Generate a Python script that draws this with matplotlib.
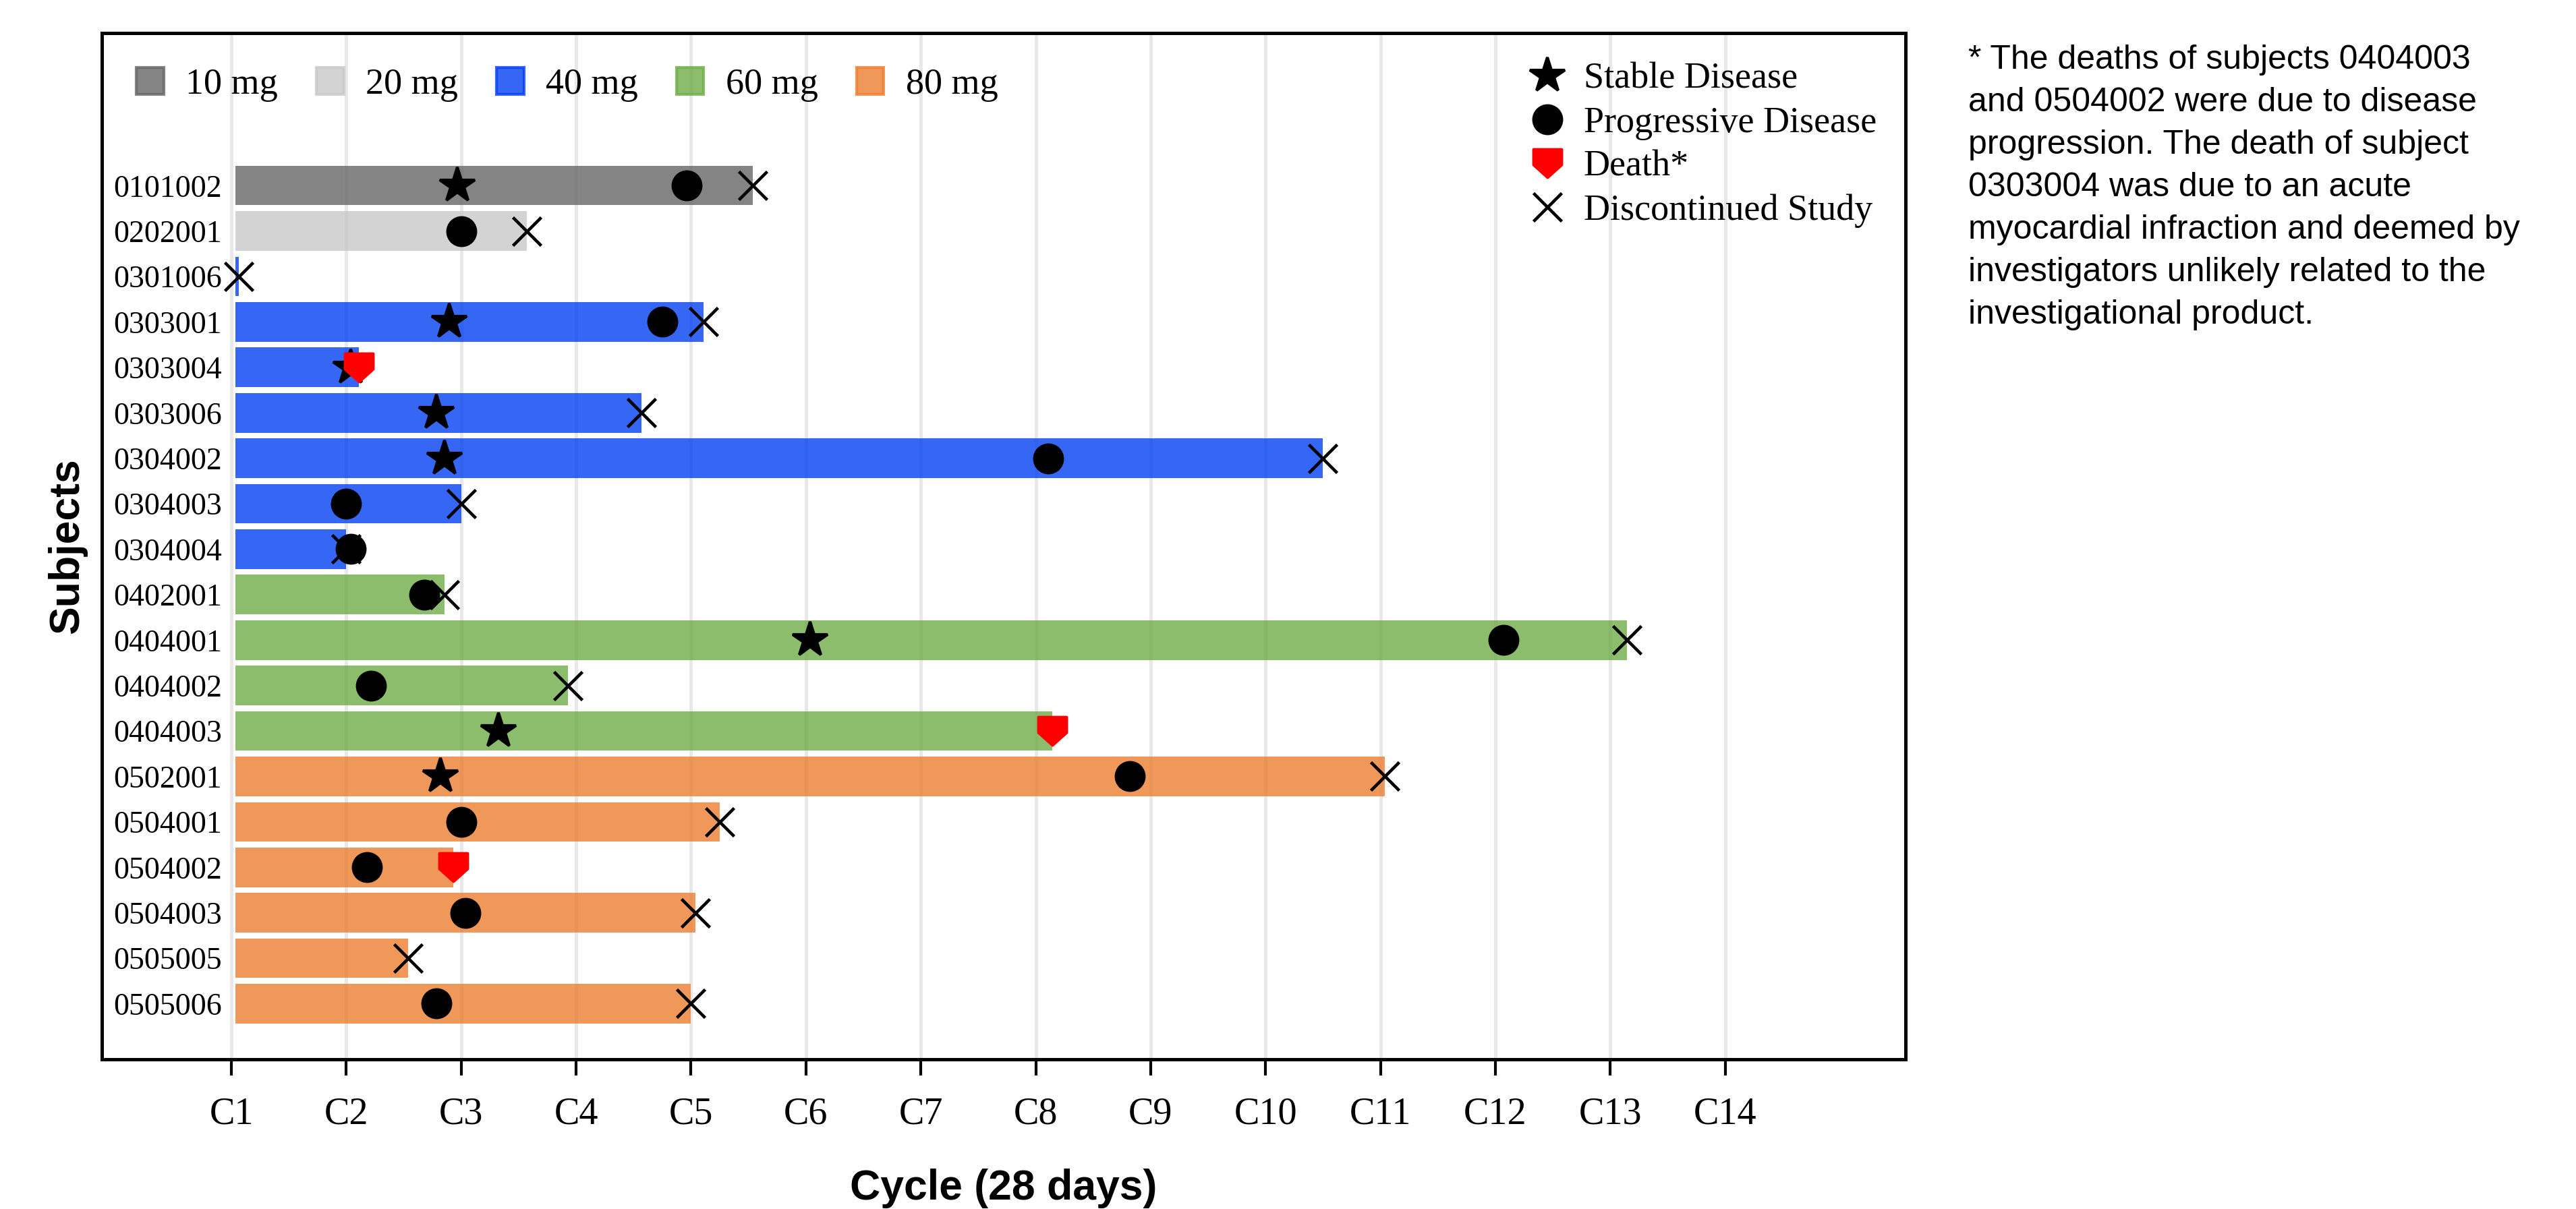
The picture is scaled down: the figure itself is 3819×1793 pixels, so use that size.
import matplotlib.pyplot as plt
import numpy as np
from matplotlib.path import Path
from matplotlib.patches import Patch
from matplotlib.lines import Line2D

plt.rcParams['font.family'] = 'Liberation Serif'

nan = np.nan

subjects = ['0101002', '0202001', '0301006', '0303001', '0303004', '0303006',
            '0304002', '0304003', '0304004', '0402001', '0404001', '0404002',
            '0404003', '0502001', '0504001', '0504002', '0504003', '0505005',
            '0505006']
doses = [10, 20, 40, 40, 40, 40, 40, 40, 40, 60, 60, 60, 60, 80, 80, 80, 80, 80, 80]
# day on study when each subject stopped (bars start on day 1)
end_day = [127, 72, 1.8, 115, 31, 100, 266, 56, 28, 52, 340, 82, 200, 281, 119, 54, 113, 43, 112]

stable_day = [55, nan, nan, 53, 29, 50, 52, nan, nan, nan, 141, nan, 65, 51, nan, nan, nan, nan, nan]
progressive_day = [111, 56, nan, 105, nan, nan, 199, 28, 29, 47, 310, 34, nan, 219, 56, 33, 57, nan, 50]
death_day = [nan, nan, nan, nan, 31, nan, nan, nan, nan, nan, nan, nan, 200, nan, nan, 54, nan, nan, nan]
disc_day = [127, 72, 1.8, 115, nan, 100, 266, 56, 28, 52, 340, 82, nan, 281, 119, nan, 113, 43, 112]

dose_levels = [10, 20, 40, 60, 80]
dose_colors = ['#666666', '#c8c8c8', '#0340f2', '#70ad47', '#ed7d31']

cycle_labels = ['C%d' % k for k in range(1, 15)]
cycle_days = [28 * k for k in range(14)]

note = ("* The deaths of subjects 0404003\n"
        "and 0504002 were due to disease\n"
        "progression. The death of subject\n"
        "0303004 was due to an acute\n"
        "myocardial infraction and deemed by\n"
        "investigators unlikely related to the\n"
        "investigational product.")

# red "shield" marker for deaths
death_marker = Path([(-1, 1), (1, 1), (1, -0.1), (0, -1), (-1, -0.1), (-1, 1)],
                    [Path.MOVETO, Path.LINETO, Path.LINETO, Path.LINETO, Path.LINETO, Path.CLOSEPOLY])

fig = plt.figure(figsize=(12.73, 5.977), dpi=300)
ax = fig.add_axes([0.0395, 0.1236, 0.7003, 0.8492])

ypos = np.arange(len(subjects))
end_arr = np.array(end_day)
dose_arr = np.array(doses)
for dose, color in zip(dose_levels, dose_colors):
    sel = dose_arr == dose
    ax.barh(ypos[sel], end_arr[sel] - 1, left=1, height=0.87,
            color=color, alpha=0.8, zorder=2)

ax.plot(stable_day, ypos, ls='none', marker='*', ms=13, color='k', zorder=3)
ax.plot(disc_day, ypos, ls='none', marker='x', ms=10, mew=1.1, color='k', zorder=3)
ax.plot(progressive_day, ypos, ls='none', marker='o', ms=10, color='k', zorder=4)
ax.plot(death_day, ypos, ls='none', marker=death_marker, ms=10, color='red', mec='red', zorder=5)

ax.set_xlim(-31.6, 408)
ax.set_ylim(19.23, -3.36)

ax.set_xticks(cycle_days)
ax.set_xticklabels(cycle_labels)
ax.set_yticks(ypos)
ax.set_yticklabels(subjects)
ax.tick_params(axis='x', length=5.8, width=1.0, pad=7.5, labelsize=13.5)
ax.tick_params(axis='y', length=0, pad=-42.7, labelsize=11)
ax.grid(axis='x', color='#e8e8e8', lw=1.2, zorder=0)
ax.set_axisbelow(True)
for s in ax.spines.values():
    s.set_linewidth(1.2)

ax.set_xlabel('Cycle (28 days)', family='Liberation Sans', fontweight='bold',
              fontsize=15, labelpad=13)
ax.set_ylabel('Subjects', family='Liberation Sans', fontweight='bold', fontsize=15)
ax.yaxis.set_label_coords(-0.008, 0.5)

dose_handles = [Patch(facecolor=c, edgecolor=c, alpha=0.8, lw=1, label='%d mg' % d)
                for d, c in zip(dose_levels, dose_colors)]
leg1 = ax.legend(handles=dose_handles, loc='upper left', ncol=5, frameon=False,
                 fontsize=13, handlelength=0.75, handleheight=0.75,
                 handletextpad=0.6, columnspacing=1.05, borderaxespad=0.55)
ax.add_artist(leg1)

status_handles = [
    Line2D([], [], ls='none', marker='*', ms=13, color='k', label='Stable Disease'),
    Line2D([], [], ls='none', marker='o', ms=10, color='k', label='Progressive Disease'),
    Line2D([], [], ls='none', marker=death_marker, ms=10, color='red', label='Death*'),
    Line2D([], [], ls='none', marker='x', ms=10, mew=1.1, color='k', label='Discontinued Study'),
]
ax.legend(handles=status_handles, loc='upper right', frameon=False, fontsize=13,
          handlelength=1.0, handletextpad=0.5, labelspacing=0.27, borderaxespad=0.4)

fig.text(0.764, 0.963, note, ha='left', va='top', family='Liberation Sans',
         fontsize=12, linespacing=1.47)

fig.savefig('out.png', dpi=300)
